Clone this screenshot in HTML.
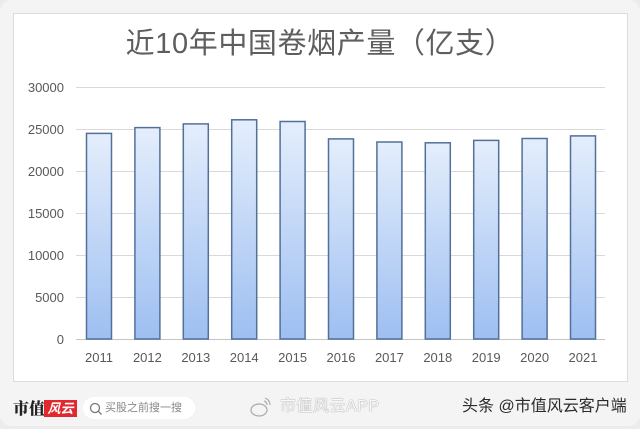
<!DOCTYPE html>
<html><head><meta charset="utf-8"><style>
html,body{margin:0;padding:0;}
body{width:640px;height:429px;overflow:hidden;background:#ececec;position:relative;font-family:"Liberation Sans","Noto Sans CJK SC",sans-serif;}
.outer{position:absolute;left:0;top:0;width:640px;height:426px;background:#f4f4f4;border-radius:12px;}
.card{position:absolute;left:13px;top:13px;width:613px;height:367px;background:#fff;border:1px solid #dcdcdc;}
.title{position:absolute;left:0;width:640px;top:26px;text-align:center;font-family:"Liberation Sans","Noto Sans CJK SC",sans-serif;font-size:29px;color:#5e5e5e;letter-spacing:0.6px;line-height:36px;white-space:nowrap;}
.logo1{position:absolute;left:13px;top:398px;font-family:"Noto Serif CJK SC",serif;font-weight:900;font-size:16px;color:#222;line-height:20px;}
.logo2{position:absolute;left:44px;top:400px;width:33px;height:17px;background:#e0282e;color:#fff;font-size:13px;line-height:17px;text-align:center;font-style:italic;font-weight:bold;}
.search{position:absolute;left:83px;top:397px;width:112px;height:22px;background:#fff;border-radius:11px;font-size:11px;color:#888;line-height:22px;}
.search span{position:absolute;left:22px;top:0;}
.search svg{position:absolute;left:6px;top:5px;}
.weibo{position:absolute;left:280px;top:397px;font-size:16px;color:#fafafa;line-height:20px;text-shadow:0 0 1px #999,0 0 1px #999;letter-spacing:0.5px;}
.toutiao{position:absolute;left:462px;top:397px;font-size:16px;color:#2a2a2a;line-height:20px;white-space:nowrap;}
</style></head><body>
<div class="outer"></div>
<div class="card"></div>
<div class="title">近10年中国卷烟产量（亿支）</div>
<svg width="640" height="429" style="position:absolute;left:0;top:0" xmlns="http://www.w3.org/2000/svg">
<defs>
<linearGradient id="g" x1="0" y1="0" x2="0" y2="1">
<stop offset="0" stop-color="#e4eefc"/>
<stop offset="1" stop-color="#9ebff1"/>
</linearGradient>
</defs>
<g stroke="#d9d9d9" stroke-width="1">
<line x1="76" x2="605" y1="87.5" y2="87.5"/>
<line x1="76" x2="605" y1="129.5" y2="129.5"/>
<line x1="76" x2="605" y1="171.5" y2="171.5"/>
<line x1="76" x2="605" y1="213.5" y2="213.5"/>
<line x1="76" x2="605" y1="255.5" y2="255.5"/>
<line x1="76" x2="605" y1="297.5" y2="297.5"/>
</g>
<line x1="76" x2="605" y1="339.5" y2="339.5" stroke="#c4c4c4" stroke-width="1"/>
<g font-family="Liberation Sans, sans-serif" font-size="13" fill="#595959" text-anchor="end">
<text x="64" y="92">30000</text>
<text x="64" y="134">25000</text>
<text x="64" y="176">20000</text>
<text x="64" y="218">15000</text>
<text x="64" y="260">10000</text>
<text x="64" y="302">5000</text>
<text x="64" y="344">0</text>
</g>
<g fill="url(#g)" stroke="#53709a" stroke-width="1.5">
<rect x="86.5" y="133.4" width="25" height="205.6"/>
<rect x="134.9" y="127.6" width="25" height="211.4"/>
<rect x="183.3" y="123.9" width="25" height="215.1"/>
<rect x="231.7" y="119.8" width="25" height="219.2"/>
<rect x="280.1" y="121.5" width="25" height="217.5"/>
<rect x="328.5" y="138.9" width="25" height="200.1"/>
<rect x="376.9" y="142.0" width="25" height="197"/>
<rect x="425.3" y="142.8" width="25" height="196.2"/>
<rect x="473.7" y="140.4" width="25" height="198.6"/>
<rect x="522.1" y="138.5" width="25" height="200.5"/>
<rect x="570.5" y="135.9" width="25" height="203.1"/>
</g>
<g font-family="Liberation Sans, sans-serif" font-size="13" fill="#595959" text-anchor="middle">
<text x="99" y="362">2011</text>
<text x="147.4" y="362">2012</text>
<text x="195.8" y="362">2013</text>
<text x="244.2" y="362">2014</text>
<text x="292.6" y="362">2015</text>
<text x="341" y="362">2016</text>
<text x="389.4" y="362">2017</text>
<text x="437.8" y="362">2018</text>
<text x="486.2" y="362">2019</text>
<text x="534.6" y="362">2020</text>
<text x="583" y="362">2021</text>
</g>
<ellipse cx="259" cy="410" rx="8" ry="6" fill="none" stroke="#aaa" stroke-width="1.2"/>
<path d="M265 398 q5 2 5 7 M264 401 q3 1 3 4" fill="none" stroke="#aaa" stroke-width="1.2"/>
</svg>
<div class="logo1">市值</div>
<div class="logo2">风云</div>
<div class="search"><svg width="14" height="14" xmlns="http://www.w3.org/2000/svg"><circle cx="6" cy="6" r="4.5" fill="none" stroke="#777" stroke-width="1.3"/><line x1="9.2" y1="9.2" x2="12.5" y2="12.5" stroke="#777" stroke-width="1.3"/></svg><span>买股之前搜一搜</span></div>
<div class="weibo">市值风云APP</div>
<div class="toutiao">头条 @市值风云客户端</div>
</body></html>
